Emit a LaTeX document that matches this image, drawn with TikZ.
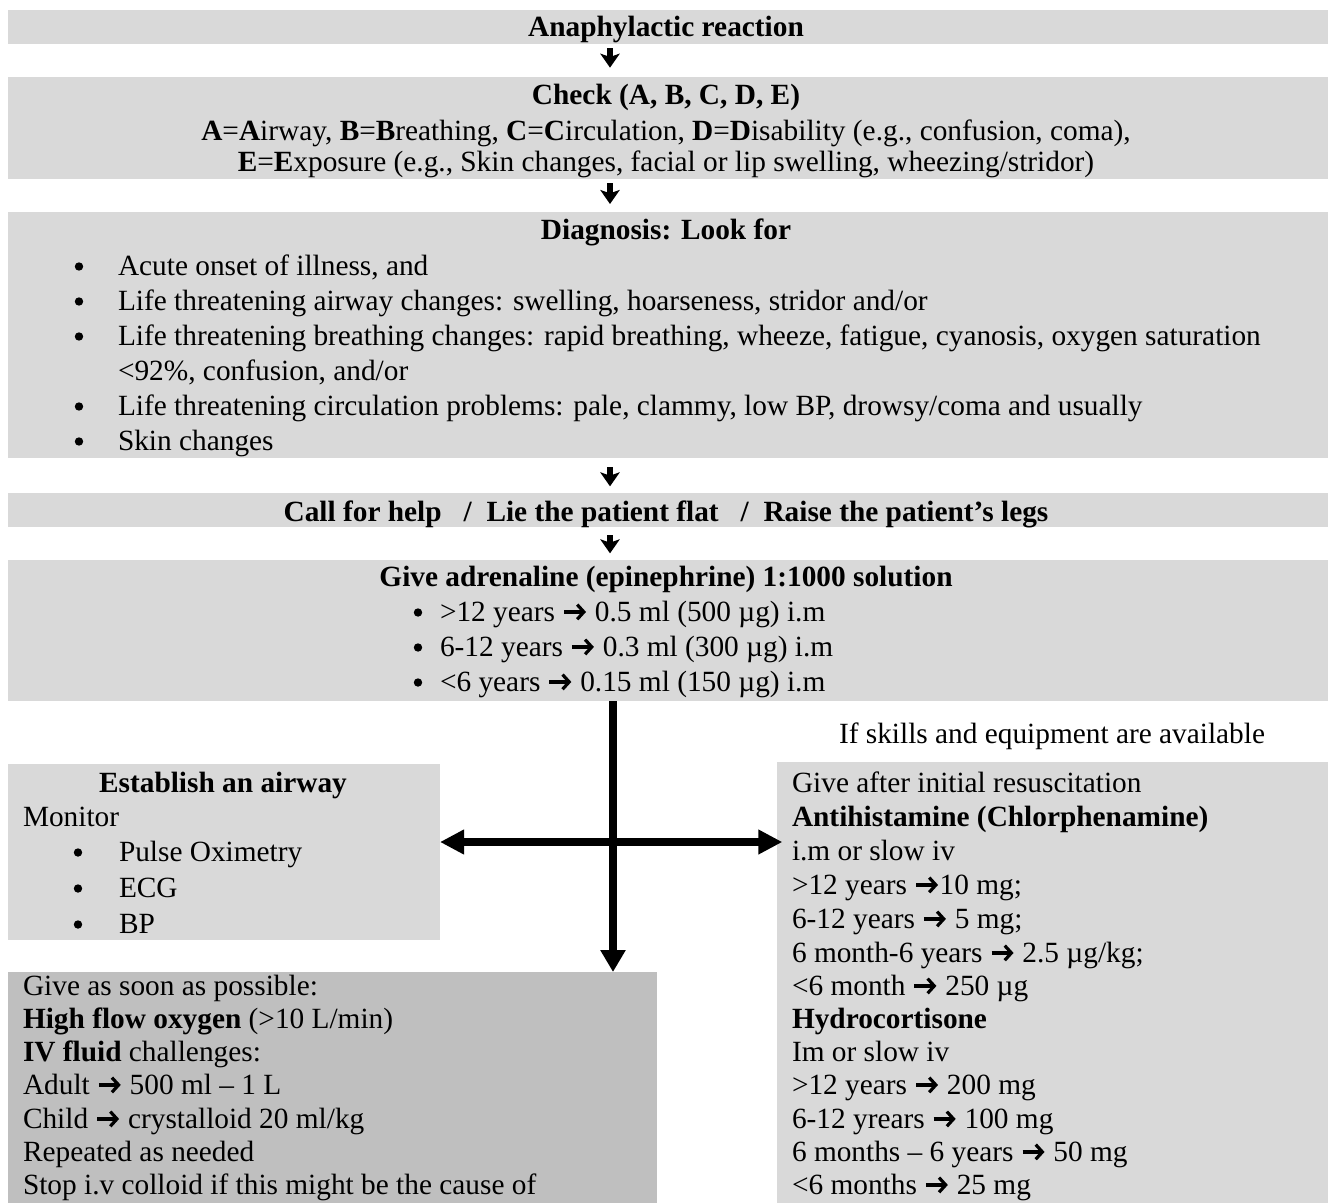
\documentclass[tikz,border=0pt]{standalone}
\usepackage{fontspec}
\setmainfont{Liberation Serif}
\usetikzlibrary{arrows.meta}
\definecolor{bandgray}{HTML}{D9D9D9}
\definecolor{darkgray}{HTML}{BFBFBF}
\newcommand\myarr{\tikz[baseline=0pt]{\draw[line width=2.4pt, -{Straight Barb[length=5pt, width=11pt, line width=2.4pt]}] (0pt,6.8pt) -- (16.5pt,6.8pt);}}
\newcommand\myline[4]{\node[txt] (#1) at (#2,#3) {#4};}
\newcommand\mycline[4]{\node[ctxt] (#1) at (#2,#3) {#4};}
\newcommand\mybul[3]{\node[bul] (#1) at (#2,#3-8.5) {};}
\tikzset{
  band/.style={fill=bandgray, draw=none, inner sep=0pt, outer sep=0pt, anchor=north west},
  txt/.style={inner sep=0pt, outer sep=0pt, anchor=base west, font=\fontsize{22}{26}\selectfont},
  ctxt/.style={txt, anchor=base},
  bul/.style={circle, fill=black, inner sep=0pt, minimum size=6.3pt},
  smallarr/.style={line width=4.2pt, -{Stealth[length=10.5pt, width=14.5pt, inset=2.5pt]}},
  bigarr/.style={line width=5.5pt, -{Triangle[length=16.5pt, width=18pt]}},
  hbigarr/.style={line width=5.5pt, {Triangle[length=18pt, width=17.5pt]}-{Triangle[length=18pt, width=17.5pt]}},
}
\begin{document}
\begin{tikzpicture}[x=0.75pt, y=-0.75pt]
\useasboundingbox (0,0) rectangle (1328,1203);
\clip (0,0) rectangle (1328,1203);
\fill[white] (0,0) rectangle (1328,1203);

% boxes
\node[band, minimum width={0.75pt*1320}, minimum height={0.75pt*34}] (b1) at (8,10) {};
\node[band, minimum width={0.75pt*1320}, minimum height={0.75pt*102}] (b2) at (8,77) {};
\node[band, minimum width={0.75pt*1320}, minimum height={0.75pt*246}] (b3) at (8,212) {};
\node[band, minimum width={0.75pt*1320}, minimum height={0.75pt*34}] (b4) at (8,493) {};
\node[band, minimum width={0.75pt*1320}, minimum height={0.75pt*141}] (b5) at (8,560) {};
\node[band, minimum width={0.75pt*432}, minimum height={0.75pt*176}] (airway) at (8,764) {};
\node[band, minimum width={0.75pt*551}, minimum height={0.75pt*460}] (drugs) at (777,762) {};
\node[band, fill=darkgray, minimum width={0.75pt*649}, minimum height={0.75pt*250}] (fluids) at (8,972) {};

% band 1
\mycline{t1}{666}{36}{\textbf{Anaphylactic reaction}}
% band 2
\mycline{t2}{666}{104}{\textbf{Check (A, B, C, D, E)}}
\mycline{t3}{666}{140}{\textbf{A}=\textbf{A}irway, \textbf{B}=\textbf{B}reathing, \textbf{C}=\textbf{C}irculation, \textbf{D}=\textbf{D}isability (e.g., confusion, coma),}
\mycline{t4}{666}{171}{\textbf{E}=\textbf{E}xposure (e.g., Skin changes, facial or lip swelling, wheezing/stridor)}
% band 3
\mycline{t5}{666}{239}{\textbf{Diagnosis: Look for}}
\mybul{u1}{79}{275}\myline{t6}{118}{275}{Acute onset of illness, and}
\mybul{u2}{79}{310}\myline{t7}{118}{310}{Life threatening airway changes: swelling, hoarseness, stridor and/or}
\mybul{u3}{79}{345}\myline{t8}{118}{345}{Life threatening breathing changes: rapid breathing, wheeze, fatigue, cyanosis, oxygen saturation}
\myline{t9}{118}{380}{<92\%, confusion, and/or}
\mybul{u4}{79}{415}\myline{t10}{118}{415}{Life threatening circulation problems: pale, clammy, low BP, drowsy/coma and usually}
\mybul{u5}{79}{450}\myline{t11}{118}{450}{Skin changes}
% band 4
\mycline{t12}{666}{521}{\textbf{Call for help \ \ /\ \ Lie the patient flat \ \ /\ \ Raise the patient’s legs}}
% band 5
\mycline{t13}{666}{586}{\textbf{Give adrenaline (epinephrine) 1:1000 solution}}
\mybul{u6}{418}{621}\myline{t14}{440}{621}{>12 years \myarr{} 0.5 ml (500 µg) i.m}
\mybul{u7}{418}{656}\myline{t15}{440}{656}{6-12 years \myarr{} 0.3 ml (300 µg) i.m}
\mybul{u8}{418}{691}\myline{t16}{440}{691}{<6 years \myarr{} 0.15 ml (150 µg) i.m}

% note
\myline{t17}{839}{743}{If skills and equipment are available}

% airway box
\mycline{t18}{223}{792}{\textbf{Establish an airway}}
\myline{t19}{23}{826}{Monitor}
\mybul{u9}{78}{861}\myline{t20}{119}{861}{Pulse Oximetry}
\mybul{u10}{78}{897}\myline{t21}{119}{897}{ECG}
\mybul{u11}{78}{933}\myline{t22}{119}{933}{BP}

% drugs box
\myline{t23}{792}{792}{Give after initial resuscitation}
\myline{t24}{792}{826}{\textbf{Antihistamine (Chlorphenamine)}}
\myline{t25}{792}{860}{i.m or slow iv}
\myline{t26}{792}{894}{>12 years \myarr{}10 mg;}
\myline{t27}{792}{928}{6-12 years \myarr{} 5 mg;}
\myline{t28}{792}{962}{6 month-6 years \myarr{} 2.5 µg/kg;}
\myline{t29}{792}{995}{<6 month \myarr{} 250 µg}
\myline{t30}{792}{1028}{\textbf{Hydrocortisone}}
\myline{t31}{792}{1061}{Im or slow iv}
\myline{t32}{792}{1094}{>12 years \myarr{} 200 mg}
\myline{t33}{792}{1128}{6-12 yrears \myarr{} 100 mg}
\myline{t34}{792}{1161}{6 months – 6 years \myarr{} 50 mg}
\myline{t35}{792}{1194}{<6 months \myarr{} 25 mg}

% fluids box
\myline{t36}{23}{995}{Give as soon as possible:}
\myline{t37}{23}{1028}{\textbf{High flow oxygen} (>10 L/min)}
\myline{t38}{23}{1061}{\textbf{IV fluid} challenges:}
\myline{t39}{23}{1094}{Adult \myarr{} 500 ml – 1 L}
\myline{t40}{23}{1128}{Child \myarr{} crystalloid 20 ml/kg}
\myline{t41}{23}{1161}{Repeated as needed}
\myline{t42}{23}{1194}{Stop i.v colloid if this might be the cause of}

% small arrows between bands
\coordinate (ax) at (610,0);
\draw[smallarr, shorten <=3pt, shorten >=7pt] (b1.south -| ax) -- (b2.north -| ax);
\draw[smallarr, shorten <=3pt, shorten >=6pt] (b2.south -| ax) -- (b3.north -| ax);
\draw[smallarr, shorten <=7pt, shorten >=5pt] (b3.south -| ax) -- (b4.north -| ax);
\draw[smallarr, shorten <=6pt, shorten >=5pt] (b4.south -| ax) -- (b5.north -| ax);

% big arrows
\coordinate (vx) at (613,842);
\draw[bigarr] (b5.south -| vx) -- (fluids.north -| vx);
\draw[hbigarr, shorten >=-4pt] (airway.east |- vx) -- (drugs.west |- vx);
\end{tikzpicture}
\end{document}
